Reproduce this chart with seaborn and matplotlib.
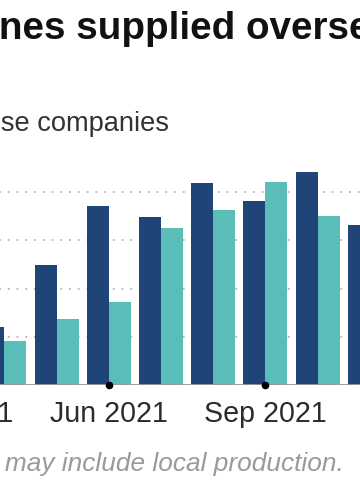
import pandas as pd
import seaborn as sns
import matplotlib.pyplot as plt

# Monthly doses (millions)
months = ["Apr 2021", "May 2021", "Jun 2021", "Jul 2021",
          "Aug 2021", "Sep 2021", "Oct 2021", "Nov 2021"]
series_a = [60.5, 124.5, 186, 174.5, 209.5, 190.5, 221, 166]
series_b = [46, 68.5, 86, 163, 181.5, 210.5, 175, None]  # Nov not visible
series_names = ["Sinopharm", "Sinovac"]

tick_pos = [-1, 2, 5, 8]
tick_labels = ["Mar 2021", "Jun 2021", "Sep 2021", "Dec 2021"]
grid_vals = [50, 100, 150, 200]

rows = []
for m, a, b in zip(months, series_a, series_b):
    rows.append((m, series_names[0], a))
    if b is not None:
        rows.append((m, series_names[1], b))
df = pd.DataFrame(rows, columns=["month", "series", "doses"])

sns.set_theme(style="white")
plt.rcParams['font.family'] = ['Liberation Sans', 'DejaVu Sans']

W, H = 360, 504
fig = plt.figure(figsize=(W / 100, H / 100), dpi=100)
# the chart is a crop of a wider one, so the axes run past the figure edges
ax = fig.add_axes([-100 / W, 119 / H, 560 / W, 235 / H])

sns.barplot(data=df, x="month", y="doses", hue="series", order=months,
            hue_order=series_names, palette=["#1f4477", "#5bbdb8"],
            saturation=1, width=0.843, errorbar=None, linewidth=0,
            legend=False, ax=ax, zorder=2)

ax.set_yticks(grid_vals)
ax.yaxis.grid(True, color="#bdbdbd", lw=1.4, ls=(0, (1, 3.5)), zorder=0)
ax.tick_params(axis="y", labelleft=False, length=0)
ax.axhline(0, color="#999999", lw=1.3, zorder=3)
ax.plot(tick_pos, [0] * len(tick_pos), "o", color="black", ms=4.5,
        clip_on=False, zorder=4)

ax.set_xticks(tick_pos, tick_labels)
ax.tick_params(axis="x", length=0, pad=11, labelsize=20.6, labelcolor="#2b2b2b")
ax.set_xlim(-2.0, 8.73)
ax.set_ylim(0, 243.8)
ax.set_xlabel("")
ax.set_ylabel("")
sns.despine(ax=ax, left=True, bottom=True)

renderer = fig.canvas.get_renderer()


def text_width(s, **kw):
    t = fig.text(0, 0, s, **kw)
    w = t.get_window_extent(renderer).width
    t.remove()
    return w


def cropped_text(full, visible, x_px, y_px, **kw):
    # place the full string so that `visible` starts at x_px
    suffix = full[full.index(visible):]
    x0 = x_px - (text_width(full, **kw) - text_width(suffix, **kw))
    fig.text(x0 / W, 1 - y_px / H, full, va="baseline", ha="left", **kw)


cropped_text("Chinese vaccines supplied overseas", "nes supplied", -1, 39,
             fontsize=27.8, fontweight="bold", color="#111111")
cropped_text("Doses delivered by Chinese companies", "se companies", 1, 131,
             fontsize=19.6, color="#333333")
cropped_text("Note: Figures may include local production.", "may include", 5, 470.5,
             fontsize=18.9, style="italic", color="#9a9a9a")

fig.savefig("out.png", dpi=100)
